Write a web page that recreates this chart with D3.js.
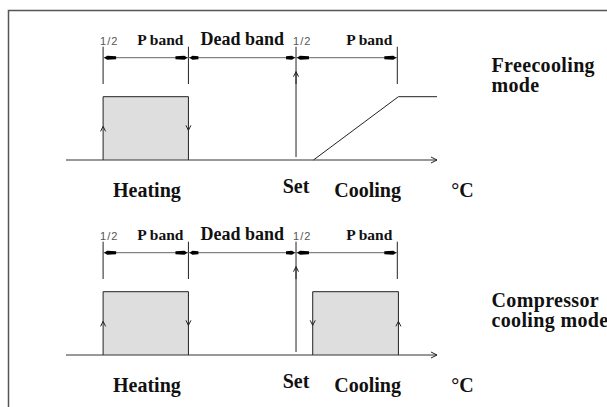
<!DOCTYPE html>
<html>
<head>
<meta charset="utf-8">
<script src="https://cdn.jsdelivr.net/npm/d3@7"></script>
<style>
  html, body { margin: 0; padding: 0; background: #fff; overflow: hidden; }
  svg { display: block; }
  text { font-family: "Liberation Serif", serif; font-weight: bold; fill: #111; }
  text.frac { font-family: "Liberation Sans", sans-serif; font-weight: normal; fill: #555; font-size: 11px; letter-spacing: 1px; }
</style>
</head>
<body>
<div id="canvas"></div>
<script>
// diagram values (x in arbitrary temperature units, y = output 0..1)
const bandEdges = [10, 33, 62, 89.3];          // heating start, dead band start, set point, cooling end
const bandFractions = ["1/2", "", "1/2"];
const bandNames = ["P band", "Dead band", "P band"];
const heatingOutput = [[10, 0], [10, 1], [33, 1], [33, 0]];
const freecoolingOutput = [[66.7, 0], [89.6, 1], [100, 1]];
const compressorOutput = [[66.5, 0], [66.5, 1], [89.6, 1], [89.6, 0]];
const axisLabels = ["Heating", "Set", "Cooling", "°C"];
const axisLabelAt = [21.8, 62, 81.3, 106.9];
const modeLabels = [["Freecooling", "mode"], ["Compressor", "cooling mode"]];

const svgWidth = 607;
const svgHeight = 407;
const svg = d3.select("#canvas").append("svg")
    .attr("width", svgWidth)
    .attr("height", svgHeight);

const x = d3.scaleLinear().domain([0, 100]).range([66, 437]);

// outer frame (right and bottom fall outside the picture)
svg.append("path")
    .attr("d", "M8.5,420 L8.5,10.5 L620,10.5")
    .attr("fill", "none")
    .attr("stroke", "#555")
    .attr("stroke-width", 1.5);

// small open arrowhead
function chevron(g, cx, cy, dir) {
    const s = dir === "up" ? 1 : dir === "down" ? -1 : 0;
    let d;
    if (dir === "right") d = `M${cx - 6},${cy - 3} L${cx},${cy} L${cx - 6},${cy + 3}`;
    else d = `M${cx - 2.5},${cy + 5 * s} L${cx},${cy} L${cx + 2.5},${cy + 5 * s}`;
    g.append("path").attr("d", d).attr("fill", "none").attr("stroke", "#222").attr("stroke-width", 1);
}

function drawPanel(axisY, outputs, closedShape, modeText, modeY) {
    const g = svg.append("g");
    const y = d3.scaleLinear().domain([0, 1]).range([axisY, axisY - 63.3]);
    const dimY = axisY - 102.3;
    const labelY = axisY - 115;

    // band ticks
    bandEdges.forEach(e => {
        g.append("line")
            .attr("x1", x(e)).attr("x2", x(e))
            .attr("y1", axisY - 113.3).attr("y2", axisY - 76)
            .attr("stroke", "#222").attr("stroke-width", 1);
    });

    // dimension line
    g.append("line")
        .attr("x1", x(bandEdges[0])).attr("x2", x(bandEdges[3]))
        .attr("y1", dimY).attr("y2", dimY)
        .attr("stroke", "#666").attr("stroke-width", 1);

    // dimension arrowheads
    for (let i = 0; i < 3; i++) {
        const a = x(bandEdges[i]), b = x(bandEdges[i + 1]);
        const len = i === 1 ? 10 : 13;
        g.append("polygon")
            .attr("points", `${a + 1},${dimY} ${a + 4},${dimY - 2} ${a + len},${dimY - 1.5} ${a + len},${dimY + 1.5} ${a + 4},${dimY + 2}`)
            .attr("fill", "#000");
        g.append("polygon")
            .attr("points", `${b - 1},${dimY} ${b - 4},${dimY - 2} ${b - len},${dimY - 1.5} ${b - len},${dimY + 1.5} ${b - 4},${dimY + 2}`)
            .attr("fill", "#000");
    }

    // band labels
    bandNames.forEach((name, i) => {
        const a = x(bandEdges[i]), b = x(bandEdges[i + 1]);
        if (bandFractions[i]) {
            g.append("text").attr("class", "frac")
                .attr("x", a - 3).attr("y", labelY)
                .text(bandFractions[i]);
            g.append("text")
                .attr("x", b - 5).attr("y", labelY)
                .attr("text-anchor", "end")
                .style("font-size", "15.5px")
                .text(name);
        } else {
            g.append("text")
                .attr("x", (a + b) / 2).attr("y", labelY)
                .attr("text-anchor", "middle")
                .style("font-size", "18px")
                .text(name);
        }
    });

    const area = d3.area().x(d => x(d[0])).y0(y(0)).y1(d => y(d[1]));
    const line = d3.line().x(d => x(d[0])).y(d => y(d[1]));

    // heating block
    g.append("path").datum(heatingOutput)
        .attr("d", area).attr("fill", "#dedede");
    g.append("path").datum(heatingOutput)
        .attr("d", line).attr("fill", "none").attr("stroke", "#222").attr("stroke-width", 1);
    chevron(g, x(heatingOutput[0][0]), y(0.5) - 2, "up");
    chevron(g, x(heatingOutput[3][0]), y(0.5) + 2, "down");

    // cooling output
    if (closedShape) {
        g.append("path").datum(outputs)
            .attr("d", area).attr("fill", "#dedede");
        chevron(g, x(outputs[0][0]), y(0.5) + 2, "down");
        chevron(g, x(outputs[3][0]), y(0.5) - 2, "up");
    }
    g.append("path").datum(outputs)
        .attr("d", line).attr("fill", "none").attr("stroke", "#222").attr("stroke-width", 1);

    // temperature axis
    g.append("line")
        .attr("x1", x(0)).attr("x2", x(100))
        .attr("y1", axisY).attr("y2", axisY)
        .attr("stroke", "#333").attr("stroke-width", 1);
    chevron(g, x(100), axisY, "right");

    // set point arrow
    g.append("line")
        .attr("x1", x(bandEdges[2])).attr("x2", x(bandEdges[2]))
        .attr("y1", axisY - 3).attr("y2", axisY - 88.3)
        .attr("stroke", "#222").attr("stroke-width", 1);
    chevron(g, x(bandEdges[2]), axisY - 88.3, "up");

    // axis labels
    axisLabels.forEach((t, i) => {
        g.append("text")
            .attr("x", x(axisLabelAt[i]))
            .attr("y", axisY + (t === "Set" ? 32.7 : 36.7))
            .attr("text-anchor", "middle")
            .style("font-size", "20px")
            .text(t);
    });

    // mode label
    modeText.forEach((t, i) => {
        g.append("text")
            .attr("x", 491.5).attr("y", modeY + i * 20)
            .style("font-size", "20px")
            .style("letter-spacing", "0.35px")
            .text(t);
    });
}

drawPanel(160, freecoolingOutput, false, modeLabels[0], 71.7);
drawPanel(355, compressorOutput, true, modeLabels[1], 307);
</script>
</body>
</html>
